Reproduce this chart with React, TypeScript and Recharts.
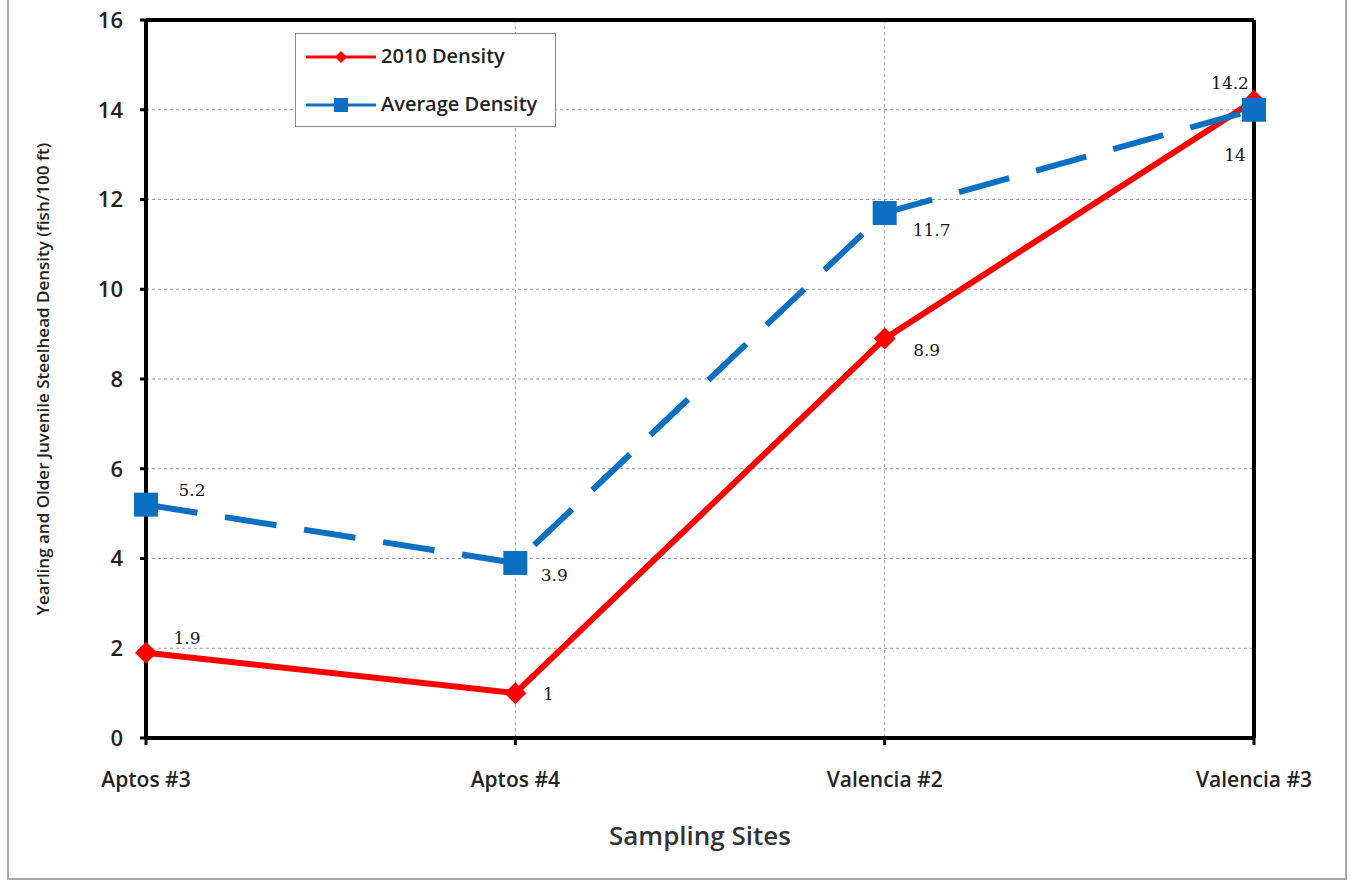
import { LineChart, Line, XAxis, YAxis, CartesianGrid, ReferenceLine, LabelList } from 'recharts'

const sites = ['Aptos #3', 'Aptos #4', 'Valencia #2', 'Valencia #3']
const density2010 = [1.9, 1, 8.9, 14.2]
const densityAvg = [5.2, 3.9, 11.7, 14]
const yTicks = [0, 2, 4, 6, 8, 10, 12, 14, 16]

// label offsets per point (px)
const redLabelOffset = [[41, -13], [33, 2], [42, 13], [-24, -16]]
const blueLabelOffset = [[46, -13], [39, 14], [47, 19], [-19, 47]]

const RED = '#ff0000'
const BLUE = '#0b6fc3'
const SANS = '"Open Sans", Lato, sans-serif'
const SERIF = '"DejaVu Serif", "Liberation Serif", serif'

const data = sites.map((site, i) => ({
  site,
  d2010: density2010[i],
  avg: densityAvg[i],
}))

const Diamond = ({ cx, cy, size = 8 }: any) => (
  <polygon
    points={`${cx},${cy - size} ${cx + size},${cy} ${cx},${cy + size} ${cx - size},${cy}`}
    fill={RED}
  />
)

const Square = ({ cx, cy, size = 11 }: any) => (
  <rect x={cx - size} y={cy - size} width={size * 2} height={size * 2} fill={BLUE} />
)

const makeLabel = (offsets: number[][]) => (props: any) => {
  const { x, y, value, index } = props
  const [dx, dy] = offsets[index]
  return (
    <text
      x={x + dx}
      y={y + dy}
      textAnchor="middle"
      dominantBaseline="middle"
      fontFamily={SERIF}
      fontSize={17}
      fill="#1a1a1a"
    >
      {value}
    </text>
  )
}

const LegendBox = () => (
  <div
    style={{
      position: 'absolute',
      left: 295,
      top: 33,
      width: 261,
      height: 94,
      border: '1px solid #888',
      background: '#fff',
      boxSizing: 'border-box',
      fontFamily: SANS,
      fontWeight: 600,
      fontSize: 20,
      color: '#222',
      lineHeight: 1,
    }}
  >
    <svg width={80} height={92} style={{ position: 'absolute', left: 8, top: 0 }}>
      <line x1={2} y1={23} x2={72} y2={23} stroke={RED} strokeWidth={3} />
      <Diamond cx={37} cy={23} size={6} />
      <line x1={2} y1={71} x2={72} y2={71} stroke={BLUE} strokeWidth={3} />
      <Square cx={37} cy={71} size={7} />
    </svg>
    <div style={{ position: 'absolute', left: 85, top: 12 }}>2010 Density</div>
    <div style={{ position: 'absolute', left: 85, top: 60 }}>Average Density</div>
  </div>
)

const YTitle = ({ viewBox }: any) => {
  const x = viewBox.x - 22
  const y = viewBox.y + viewBox.height / 2
  return (
    <text
      x={x}
      y={y}
      transform={`rotate(-90 ${x} ${y})`}
      textAnchor="middle"
      dominantBaseline="middle"
      fontFamily={SANS}
      fontWeight={600}
      fontSize={17}
      fill="#222"
    >
      Yearling and Older Juvenile Steelhead Density (fish/100 ft)
    </text>
  )
}

const XTitle = ({ viewBox }: any) => (
  <text
    x={viewBox.x + viewBox.width / 2}
    y={838}
    textAnchor="middle"
    dominantBaseline="middle"
    fontFamily={SANS}
    fontWeight={600}
    fontSize={26}
    fill="#333"
  >
    Sampling Sites
  </text>
)

export default function App() {
  return (
    <div style={{ position: 'absolute', left: 0, top: 0, width: 1353, height: 884, background: '#fff' }}>
      <div
        style={{
          position: 'absolute',
          left: 7,
          top: -2,
          width: 1340,
          height: 882,
          border: '2px solid #a8a8a8',
          boxSizing: 'border-box',
        }}
      />
      <LineChart
        width={1353}
        height={884}
        data={data}
        margin={{ top: 20, right: 99, left: 66, bottom: 86 }}
        style={{ position: 'absolute', left: 0, top: 0 }}
      >
        <CartesianGrid stroke="#9a9a9a" strokeDasharray="3 3" strokeWidth={1} />
        <XAxis
          dataKey="site"
          scale="point"
          padding={{ left: 0, right: 0 }}
          height={60}
          axisLine={{ stroke: '#000', strokeWidth: 4 }}
          tickLine={{ stroke: '#000', strokeWidth: 3 }}
          tickSize={7}
          tickMargin={27}
          tick={{ fill: '#222', fontFamily: SANS, fontWeight: 600, fontSize: 21 }}
          label={<XTitle />}
        />
        <YAxis
          domain={[0, 16]}
          ticks={yTicks}
          width={80}
          interval={0}
          axisLine={{ stroke: '#000', strokeWidth: 4 }}
          tickLine={{ stroke: '#000', strokeWidth: 3 }}
          tickSize={6}
          tickMargin={17}
          tick={{ fill: '#222', fontFamily: SANS, fontWeight: 600, fontSize: 22 }}
          label={<YTitle />}
        />
        <ReferenceLine y={16} stroke="#000" strokeWidth={4} />
        <ReferenceLine x="Valencia #3" stroke="#000" strokeWidth={4} />
        <Line
          dataKey="d2010"
          stroke={RED}
          strokeWidth={6}
          dot={<Diamond size={11} />}
          activeDot={false}
          isAnimationActive={false}
        >
          <LabelList dataKey="d2010" content={makeLabel(redLabelOffset)} />
        </Line>
        <Line
          dataKey="avg"
          stroke={BLUE}
          strokeWidth={6}
          strokeDasharray="52 28"
          dot={<Square size={12} />}
          activeDot={false}
          isAnimationActive={false}
        >
          <LabelList dataKey="avg" content={makeLabel(blueLabelOffset)} />
        </Line>
      </LineChart>
      <LegendBox />
    </div>
  )
}
